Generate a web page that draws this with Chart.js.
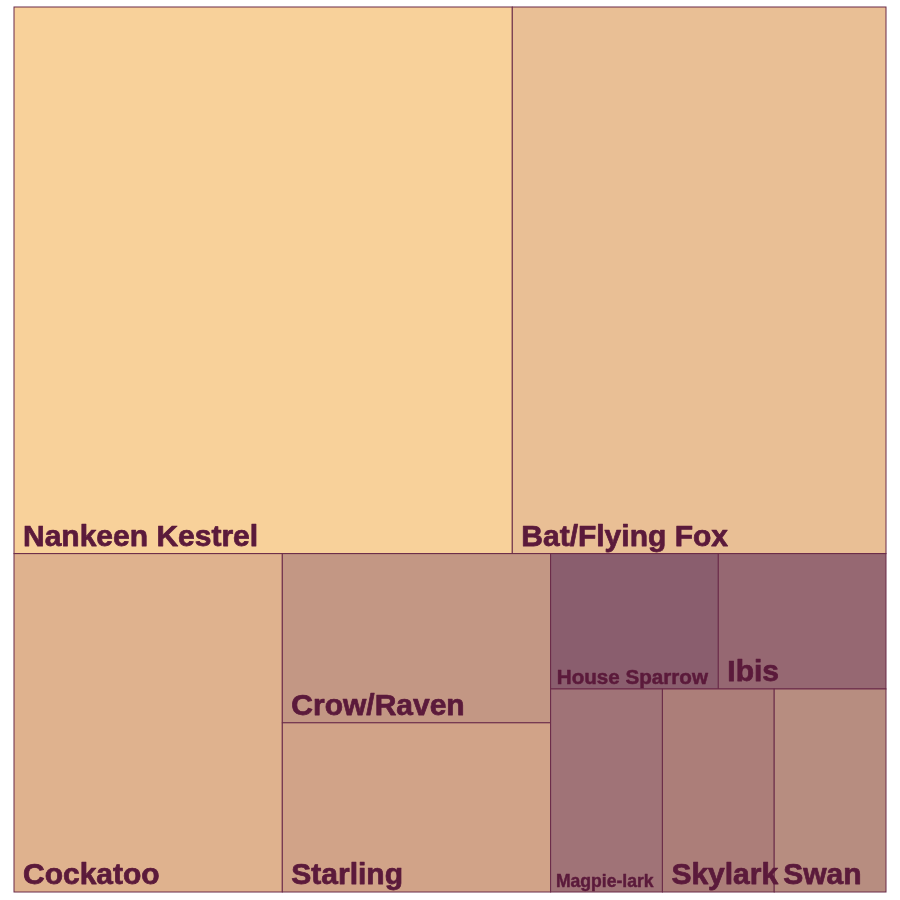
<!DOCTYPE html>
<html>
<head>
<meta charset="utf-8">
<script src="https://cdn.jsdelivr.net/npm/chart.js@4.4.1/dist/chart.umd.min.js"></script>
<style>
  html, body { margin: 0; padding: 0; background: #ffffff; }
  #wrap { width: 900px; height: 900px; }
</style>
</head>
<body>
<div id="wrap"><canvas id="c" width="900" height="900"></canvas></div>
<script>
// ---- data ----
const categories = ["Nankeen Kestrel", "Bat/Flying Fox", "Cockatoo", "Crow/Raven", "Starling",
                    "House Sparrow", "Ibis", "Magpie-lark", "Skylark", "Swan"];
const counts = [12, 9, 4, 2, 2, 1, 1, 1, 1, 1];
const fillColors = ["#F8D19A", "#E9BF95", "#DFB28E", "#C39784", "#D1A388",
                    "#8A5E6E", "#966872", "#A07377", "#AC7E79", "#B78D80"];
const textColor = "#5B1A3B";
const borderColor = "#6A2A48";

// ---- squarified layout (in normalized units: width = aspect, height = 1) ----
function squarify(values, x, y, w, h) {
  const total = values.reduce((a, b) => a + b, 0);
  const scale = (w * h) / total;
  const items = values.map((v, i) => ({ i, a: v * scale }));
  const out = new Array(values.length);
  function worst(row, side) {
    const s = row.reduce((a, r) => a + r.a, 0);
    let mx = 0;
    for (const r of row) {
      const len = r.a / (s / side);
      const other = s / side;
      mx = Math.max(mx, Math.max(len / other, other / len));
    }
    return mx;
  }
  let rx = x, ry = y, rw = w, rh = h;
  let idx = 0;
  while (idx < items.length) {
    const side = Math.min(rw, rh);
    let row = [items[idx]];
    let j = idx + 1;
    while (j < items.length) {
      const cand = row.concat([items[j]]);
      if (worst(cand, side) <= worst(row, side)) { row = cand; j++; } else break;
    }
    const s = row.reduce((a, r) => a + r.a, 0);
    if (rw <= rh) {
      const rowH = s / rw;
      let cx = rx;
      for (const r of row) {
        const cw = r.a / rowH;
        out[r.i] = { x0: cx, y0: ry, x1: cx + cw, y1: ry + rowH };
        cx += cw;
      }
      ry += rowH; rh -= rowH;
    } else {
      const colW = s / rh;
      let cy = ry;
      for (const r of row) {
        const ch = r.a / colW;
        out[r.i] = { x0: rx, y0: cy, x1: rx + colW, y1: cy + ch };
        cy += ch;
      }
      rx += colW; rw -= colW;
    }
    idx = j;
  }
  return out;
}

const FONT = '"Liberation Sans", Arial, sans-serif';

const treemapPlugin = {
  id: 'treemapCells',
  afterDatasetsDraw(chart) {
    const ctx = chart.ctx;
    const area = chart.chartArea;
    const aspect = (area.right - area.left) / (area.bottom - area.top);
    const rects = squarify(counts, 0, 0, aspect, 1);
    const xs = chart.scales.x, ys = chart.scales.y;
    ctx.save();
    rects.forEach((r, i) => {
      const px0 = xs.getPixelForValue(r.x0 / aspect);
      const px1 = xs.getPixelForValue(r.x1 / aspect);
      const py0 = ys.getPixelForValue(r.y0);
      const py1 = ys.getPixelForValue(r.y1);
      ctx.fillStyle = fillColors[i];
      ctx.fillRect(px0, py0, px1 - px0, py1 - py0);
      ctx.strokeStyle = borderColor;
      ctx.lineWidth = 1;
      ctx.strokeRect(px0, py0, px1 - px0, py1 - py0);
    });
    rects.forEach((r, i) => {
      const px0 = xs.getPixelForValue(r.x0 / aspect);
      const px1 = xs.getPixelForValue(r.x1 / aspect);
      const py1 = ys.getPixelForValue(r.y1);
      const cw = px1 - px0;
      let fs = 30;
      ctx.font = `bold ${fs}px ${FONT}`;
      const tw = ctx.measureText(categories[i]).width;
      if (tw + 0.1 * fs > cw) {
        const per = tw / fs;
        fs = cw / (per + 0.8);
        ctx.font = `bold ${fs}px ${FONT}`;
      }
      ctx.fillStyle = textColor;
      ctx.strokeStyle = textColor;
      ctx.lineWidth = fs * 0.025;
      ctx.lineJoin = 'round';
      ctx.textBaseline = 'alphabetic';
      ctx.textAlign = 'left';
      const tx = px0 + 0.3 * fs, ty = py1 - 0.26 * fs;
      ctx.fillText(categories[i], tx, ty);
      ctx.strokeText(categories[i], tx, ty);
    });
    ctx.restore();
  }
};

new Chart(document.getElementById('c'), {
  type: 'scatter',
  data: { datasets: [{ data: [], pointRadius: 0 }] },
  options: {
    responsive: false,
    animation: false,
    layout: { padding: { left: 14, right: 14, top: 7, bottom: 8 } },
    plugins: { legend: { display: false }, tooltip: { enabled: false } },
    scales: {
      x: { type: 'linear', min: 0, max: 1, display: false },
      y: { type: 'linear', min: 0, max: 1, reverse: true, display: false }
    }
  },
  plugins: [treemapPlugin]
});
</script>
</body>
</html>
